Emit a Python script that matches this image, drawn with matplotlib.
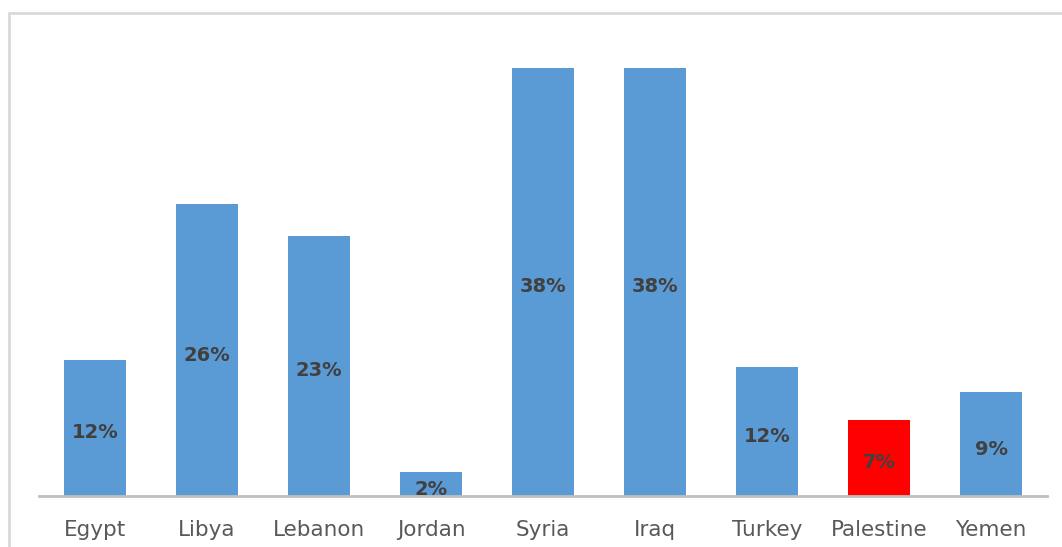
import matplotlib
matplotlib.use("Agg")
import matplotlib.pyplot as plt
from matplotlib.patches import Rectangle

countries = ["Egypt", "Libya", "Lebanon", "Jordan", "Syria", "Iraq", "Turkey", "Palestine", "Yemen"]
shares = [0.121, 0.259, 0.231, 0.021, 0.38, 0.38, 0.115, 0.0675, 0.092]
labels = ["12%", "26%", "23%", "2%", "38%", "38%", "12%", "7%", "9%"]
highlight = "Palestine"

W, H = 1062, 547
fig = plt.figure(figsize=(W / 100, H / 100), dpi=100)
fig.patch.set_facecolor("white")

# light grey frame around the chart area (runs off the right and bottom edge)
frame = Rectangle((9 / W, -0.1), 1.2, (H - 13) / H + 0.1, transform=fig.transFigure,
                  fill=False, edgecolor="#d9d9d9", linewidth=2)
fig.patches.append(frame)

ax = fig.add_axes([39 / W, (H - 496) / H, 1008 / W, 450.4 / H])
colors = ["#ff0000" if c == highlight else "#5b9bd5" for c in countries]
x = range(len(countries))
bars = ax.bar(x, shares, width=0.55, color=colors)

for b, lab in zip(bars, labels):
    ax.annotate(lab, (b.get_x() + b.get_width() / 2, b.get_height() / 2),
                xytext=(0, -3.5), textcoords="offset points",
                ha="center", va="center", fontsize=14, fontweight="bold", color="#404040")

ax.set_xlim(-0.5, len(countries) - 0.5)
ax.set_ylim(0, 0.40)
ax.set_xticks(list(x))
ax.set_xticklabels(countries, fontsize=15.5, color="#595959")
ax.tick_params(axis="x", length=0, pad=17)
ax.set_yticks([])
for s in ["top", "left", "right"]:
    ax.spines[s].set_visible(False)
ax.spines["bottom"].set_color("#bfbfbf")
ax.spines["bottom"].set_linewidth(2)

fig.savefig("out.png", dpi=100)
